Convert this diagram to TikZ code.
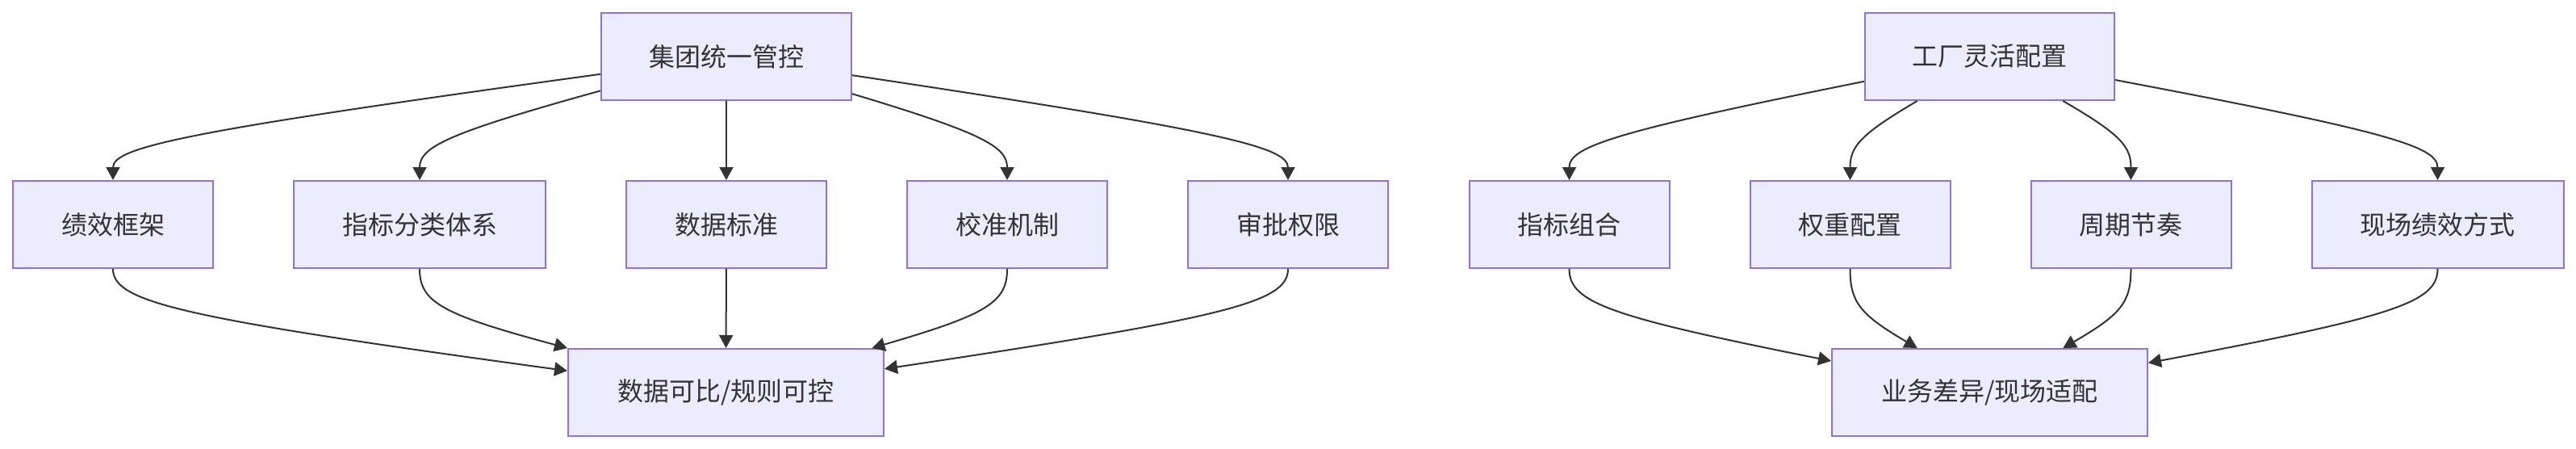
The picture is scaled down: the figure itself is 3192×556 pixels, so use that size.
\documentclass[tikz,border=0pt]{standalone}
\usepackage{fontspec}
\setmainfont{Noto Sans CJK SC}
\usetikzlibrary{arrows.meta}
\definecolor{mmfill}{HTML}{ECECFF}
\definecolor{mmborder}{HTML}{9370DB}
\definecolor{mmline}{HTML}{333333}
\begin{document}
\begin{tikzpicture}
[x=.5pt,y=-.5pt,every node/.style={rectangle,draw=mmborder,fill=mmfill,line width=1pt,text=mmline,font=\fontsize{16}{19}\selectfont,minimum width=124pt,minimum height=54pt,inner sep=0pt},
link/.style={draw=mmline,line width=1pt,-{Triangle[length=8pt,width=8.5pt]}}]
\useasboundingbox (0,0) rectangle (3192,556);
\node (1) at (900,70) [minimum width=155pt] {集团统一管控};
\node (2) at (140,278) {绩效框架};
\node (3) at (520,278) [minimum width=156pt] {指标分类体系};
\node (4) at (900,278) {数据标准};
\node (5) at (1248,278) {校准机制};
\node (6) at (1596,278) {审批权限};
\node (7) at (899.5,486) [minimum width=195.5pt] {数据可比/规则可控};
\node (8) at (2465.5,70) [minimum width=154.5pt] {工厂灵活配置};
\node (9) at (1944.5,278) {指标组合};
\node (10) at (2292.5,278) {权重配置};
\node (11) at (2640.5,278) {周期节奏};
\node (12) at (3020.5,278) [minimum width=156pt] {现场绩效方式};
\node (13) at (2465.5,486) [minimum width=195.5pt] {业务差异/现场适配};
\draw[link] ([yshift=-10.9pt]1.west) .. controls (231,162) and (140,182) .. (2.north);
\draw[link] ([yshift=-21.2pt]1.west) .. controls (554,165) and (520,182) .. (3.north);
\draw[link] (1) -- (4);
\draw[link] ([yshift=-23.1pt]1.east) .. controls (1219,165) and (1248,182) .. (5.north);
\draw[link] ([yshift=-11.6pt]1.east) .. controls (1515,162) and (1596,182) .. (6.north);
\draw[link] (2.south) .. controls (140,374.5) and (225,394) .. ([yshift=13.4pt]7.west);
\draw[link] (3.south) .. controls (520,374.5) and (548,389.5) .. (7.north west);
\draw[link] (4) -- (7);
\draw[link] (5.south) .. controls (1248,374.5) and (1223,389.5) .. ([xshift=90.5pt]7.north);
\draw[link] (6.south) .. controls (1596,374.5) and (1521,393) .. ([yshift=14.6pt]7.east);
\draw[link] ([yshift=-15.4pt]8.west) .. controls (1999.5,163) and (1944.5,181.5) .. (9.north);
\draw[link] ([xshift=-44.9pt]8.south) .. controls (2305,166.5) and (2292.5,181.5) .. (10.north);
\draw[link] ([xshift=45.4pt]8.south) .. controls (2628,166.5) and (2640.5,181.5) .. (11.north);
\draw[link] ([yshift=-14.5pt]8.east) .. controls (2960,163) and (3020.5,181.5) .. (12.north);
\draw[link] (9.south) .. controls (1944.5,374.5) and (1993,392) .. ([yshift=19.5pt]13.west);
\draw[link] (10.south) .. controls (2292.5,374.5) and (2305,389.5) .. ([xshift=-44.9pt]13.north);
\draw[link] (11.south) .. controls (2640.5,374.5) and (2628,389.5) .. ([xshift=45.4pt]13.north);
\draw[link] (12.south) .. controls (3020.5,374.5) and (2966.6,392) .. ([yshift=18.3pt]13.east);
\end{tikzpicture}
\end{document}
